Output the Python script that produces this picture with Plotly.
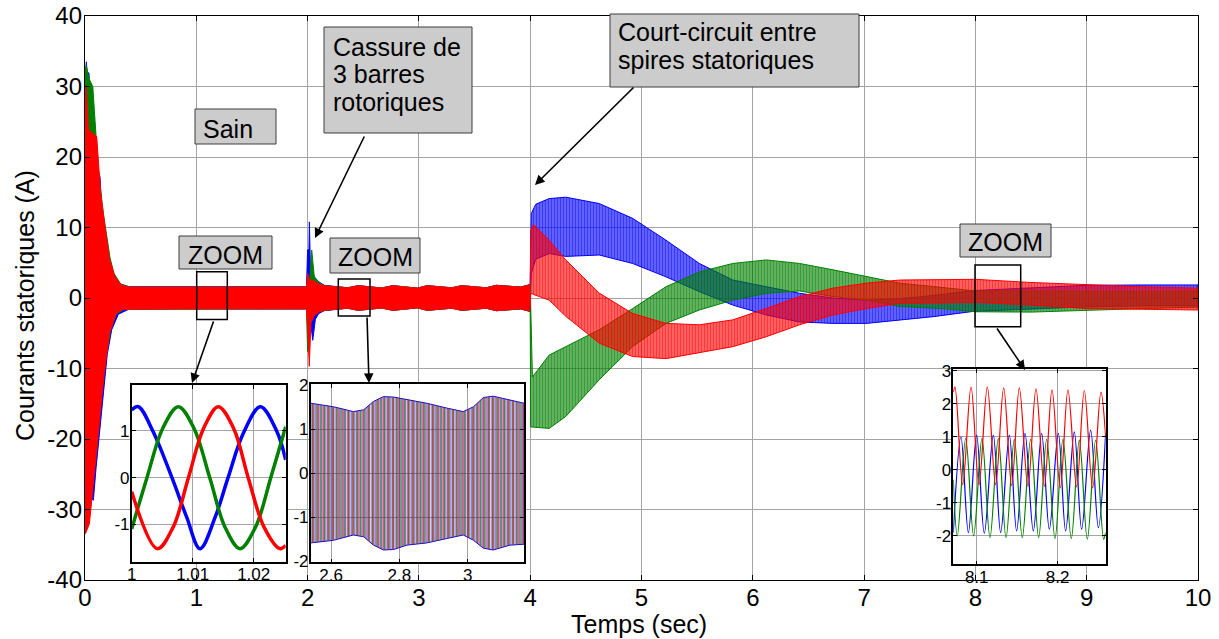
import plotly.graph_objects as go

# ---------------- colours ----------------
BLUE = "rgb(0,0,255)"
GREEN = "rgb(0,128,0)"
RED = "rgb(255,0,0)"
BLUE_T = "rgba(0,0,255,0.55)"
GREEN_T = "rgba(0,128,0,0.55)"
RED_T = "rgba(255,0,0,0.55)"
CLEAR = "rgba(0,0,0,0)"

# ---------------- main chart: envelopes ----------------
# slow modulation of the envelope after the broken-bar fault (2.15 s .. 4 s)
t_mod = [2.36, 2.455, 2.665, 2.765, 2.985, 3.075, 3.295, 3.385, 3.605, 3.695, 3.915, 4.0]
env_mod = [1.45, 1.75, 1.42, 1.75, 1.4, 1.75, 1.45, 1.75, 1.45, 1.8, 1.55, 1.9]

# phase a (blue), 0..4 s
ta_up = [0.0, 0.012, 0.02, 0.036, 0.05, 0.08, 0.12, 0.135, 0.155, 0.18, 0.195, 0.23, 0.27, 0.33, 0.4,
         1.0, 1.99, 2.0, 2.012, 2.016, 2.025, 2.06, 2.1, 2.15] + t_mod
va_up = [30, 33.5, 32, 31.9, 25, 21, 18, 17.2, 11, 9, 7.8, 4.5, 2.6, 1.9, 1.6,
         1.6, 1.6, 6.8, 7.0, 10.8, 4.5, 3.0, 2.3, 1.8] + env_mod
ta_lo = [0.0, 0.01, 0.03, 0.075, 0.1, 0.13, 0.165, 0.2, 0.24, 0.3, 0.4,
         1.0, 1.99, 2.0, 2.02, 2.046, 2.07, 2.1, 2.15] + t_mod
va_lo = [-25, -27, -28, -28.7, -24, -19, -13.5, -8, -4.5, -2.3, -1.55,
         -1.55, -1.55, -3, -2.5, -6.0, -3.0, -2.2, -1.8] + [-v for v in env_mod]

# phase b (green), 0..4 s
tb_up = [0.0, 0.01, 0.04, 0.07, 0.09, 0.12, 0.165, 0.2, 0.225, 0.26, 0.32, 0.4,
         1.0, 1.99, 2.0, 2.02, 2.037, 2.06, 2.1, 2.15] + t_mod
vb_up = [32, 33, 31, 30, 25.2, 18, 12, 8, 5.7, 3.5, 2.0, 1.55,
         1.55, 1.55, 3, 2.5, 6.8, 3.0, 2.2, 1.75] + env_mod
tb_lo = [0.0, 0.02, 0.06, 0.105, 0.14, 0.19, 0.23, 0.28, 0.35, 0.4,
         1.0, 1.99, 2.0, 2.01, 2.03, 2.06, 2.1, 2.15] + t_mod
vb_lo = [-28, -30, -27, -21.6, -15, -8.3, -4.5, -2.3, -1.6, -1.55,
         -1.55, -1.55, -7.6, -6.5, -3.5, -2.5, -2.0, -1.75] + [-v for v in env_mod]

# phase c (red), 0..4 s
tc_up = [0.0, 0.01, 0.03, 0.06, 0.105, 0.14, 0.18, 0.22, 0.27, 0.33, 0.4,
         1.0, 1.99, 2.0, 2.02, 2.05, 2.1, 2.15] + t_mod
vc_up = [28, 30, 24, 23.4, 22.9, 15, 10.1, 5.5, 3.0, 1.8, 1.55,
         1.55, 1.55, 3.5, 2.5, 2.5, 2.0, 1.75] + env_mod
tc_lo = [0.0, 0.005, 0.04, 0.08, 0.135, 0.17, 0.22, 0.28, 0.34, 0.4,
         1.0, 1.99, 2.0, 2.015, 2.03, 2.06, 2.1, 2.15] + t_mod
vc_lo = [-33.4, -33.4, -32, -26, -16.8, -11, -5, -2.2, -1.6, -1.55,
         -1.55, -1.55, -4, -9.7, -3.5, -2.5, -2.0, -1.75] + [-v for v in env_mod]

# 4..10 s (inter-turn short circuit)
ta2 = [4.0, 4.01, 4.05, 4.17, 4.32, 4.62, 4.92, 5.22, 5.52, 5.82, 6.12, 6.42, 6.72, 7.02, 7.32, 7.62, 7.98, 8.5, 9.0, 9.5, 10.0]
va2_up = [1.9, 12.0, 13.3, 14.1, 14.3, 13.4, 11.3, 8.2, 4.9, 2.55, 1.6, 0.67, 0.0, -0.3, -0.1, 0.35, 1.05, 1.4, 1.8, 1.85, 1.85]
va2_lo = [-1.6, 3.5, 5.5, 6.3, 5.9, 6.1, 4.9, 3.0, 0.9, -1.0, -2.4, -3.4, -3.6, -3.6, -3.1, -2.65, -1.9, -1.6, -1.25, -1.1, -1.1]

tb2 = [4.0, 4.004, 4.02, 4.17, 4.32, 4.62, 4.92, 5.22, 5.52, 5.82, 6.12, 6.42, 6.72, 7.02, 7.32, 7.7, 8.0, 8.5, 9.0, 9.5, 10.0]
vb2_up = [1.9, -1.5, -11.2, -8.1, -6.9, -4.5, -1.5, 1.6, 3.7, 4.9, 5.4, 4.9, 4.0, 3.0, 2.1, 1.5, 1.0, 1.0, 0.9, 0.9, 1.0]
vb2_lo = [-1.6, -18.3, -18.3, -18.5, -16.8, -11.6, -6.9, -3.6, -1.7, -0.3, 0.67, 1.0, 0.2, -0.3, -1.2, -1.5, -1.95, -2.0, -1.8, -1.5, -1.3]

tc2 = [4.0, 4.005, 4.03, 4.17, 4.32, 4.62, 4.92, 5.22, 5.52, 5.82, 6.12, 6.42, 6.72, 7.02, 7.32, 7.7, 8.0, 8.5, 9.0, 9.5, 10.0]
vc2_up = [1.9, 9.5, 10.4, 8.2, 5.4, 0.7, -2.2, -3.6, -3.8, -3.1, -1.5, 0.2, 1.4, 2.1, 2.55, 2.6, 2.65, 2.2, 1.85, 1.6, 1.4]
vc2_lo = [-1.6, 0.7, 0.5, -0.3, -2.6, -6.4, -8.3, -8.6, -7.8, -6.9, -5.5, -3.8, -2.4, -1.5, -0.75, -0.7, -0.6, -1.0, -1.5, -1.6, -1.7]

# ---------------- inset 1 (healthy, 1.0 .. 1.025 s) ----------------
z1_ta = [1.0, 1.0011, 1.0035, 1.0066, 1.009, 1.0112, 1.0137, 1.0158, 1.0183, 1.0211, 1.0238, 1.02525]
z1_va = [1.45, 1.52, 0.99, 0.0, -0.84, -1.52, -0.84, 0.0, 0.95, 1.52, 0.99, 0.38]
z1_tb = [1.0, 1.0025, 1.0051, 1.00764, 1.0102, 1.0128, 1.0153, 1.01775, 1.0203, 1.0228, 1.02525]
z1_vb = [-1.1, 0.0, 1.06, 1.52, 1.06, 0.0, -1.06, -1.52, -1.06, 0.0, 1.09]
z1_tc = [1.0, 1.0042, 1.0068, 1.0093, 1.0118, 1.0142, 1.0167, 1.0191, 1.0217, 1.0243, 1.02525]
z1_vc = [-0.3, -1.52, -1.06, 0.0, 1.06, 1.52, 1.06, 0.0, -1.06, -1.52, -1.45]

# ---------------- inset 2 (broken bars, 2.54 .. 3.165 s) ----------------
z2_t = [2.54, 2.607, 2.665, 2.695, 2.724, 2.753, 2.783, 2.822, 2.88, 2.939, 2.987, 3.017, 3.046, 3.075, 3.124, 3.165]
z2_up = [1.59, 1.51, 1.40, 1.44, 1.63, 1.74, 1.73, 1.67, 1.59, 1.48, 1.40, 1.51, 1.72, 1.75, 1.67, 1.59]
z2_lo = [-1.58, -1.52, -1.40, -1.44, -1.63, -1.74, -1.73, -1.63, -1.58, -1.48, -1.40, -1.52, -1.70, -1.74, -1.63, -1.61]

# ---------------- inset 3 (short circuit, 8.07 .. 8.26 s) ----------------
z3_ta = [8.0711, 8.0806, 8.0897, 8.0999, 8.1094, 8.1205, 8.1296, 8.1403, 8.1493, 8.1596, 8.1699,
         8.1802, 8.1897, 8.2008, 8.2098, 8.2205, 8.2296, 8.2407, 8.2502, 8.2592]
z3_va = [-1.9, 1.0, -1.9, 1.05, -1.92, 1.05, -1.9, 1.05, -1.85, 1.1, -1.85,
         1.1, -1.8, 1.1, -1.85, 1.15, -1.8, 1.2, -1.75, 1.1]
z3_tb = [8.0711, 8.0761, 8.0864, 8.0962, 8.1065, 8.1164, 8.1267, 8.1362, 8.1465, 8.1563, 8.1666,
         8.1765, 8.1864, 8.1967, 8.2065, 8.2168, 8.2267, 8.2366, 8.2469, 8.2567, 8.2592]
z3_vb = [-0.3, -2.0, 0.95, -2.0, 0.95, -2.05, 0.95, -2.05, 0.92, -2.05, 0.92,
         -2.05, 0.92, -2.08, 0.92, -2.08, 0.9, -2.1, 0.9, -2.1, -1.9]
z3_tc = [8.0711, 8.0732, 8.0827, 8.0930, 8.1028, 8.1131, 8.1234, 8.1333, 8.1432, 8.1526, 8.1633,
         8.1732, 8.1835, 8.1930, 8.2032, 8.2127, 8.2234, 8.2329, 8.2432, 8.2534, 8.2592]
z3_vc = [2.35, 2.5, -0.45, 2.5, -0.45, 2.5, -0.45, 2.48, -0.48, 2.48, -0.5,
         2.45, -0.5, 2.42, -0.55, 2.42, -0.52, 2.4, -0.55, 2.35, 1.0]

# ---------------- tick labels and texts ----------------
main_xticks = list(range(0, 11))
main_yticks = [-40, -30, -20, -10, 0, 10, 20, 30, 40]
main_ylabels = ["-40", "-30", "-20", "-10", "0", "10", "20", "30", "40"]
z1_xticks, z1_xlabels = [1, 1.01, 1.02], ["1", "1.01", "1.02"]
z1_yticks, z1_ylabels = [-1, 0, 1], ["-1", "0", "1"]
z2_xticks, z2_xlabels = [2.6, 2.8, 3.0], ["2.6", "2.8", "3"]
z2_yticks, z2_ylabels = [-2, -1, 0, 1, 2], ["-2", "-1", "0", "1", "2"]
z3_xticks, z3_xlabels = [8.1, 8.2], ["8.1", "8.2"]
z3_yticks, z3_ylabels = [-2, -1, 0, 1, 2, 3], ["-2", "-1", "0", "1", "2", "3"]

x_title = "Temps (sec)"
y_title = "Courants statoriques (A)"
FONT = "Liberation Sans, Arial, sans-serif"

# ---------------- geometry helpers (pixel -> paper) ----------------
L, R, T, B, W, H = 85, 21, 16, 59, 1219, 639
PW, PH = W - L - R, H - T - B


def px(xp):
    return (xp - L) / PW


def py(yp):
    return (H - B - yp) / PH


fig = go.Figure()


def band(t_up, v_up, t_lo, v_lo, color, tint, xa, ya, pattern=None, lw=1):
    xs = list(t_up) + list(t_lo)[::-1]
    ys = list(v_up) + list(v_lo)[::-1]
    kw = dict(x=xs, y=ys, mode="lines", fill="toself", xaxis=xa, yaxis=ya,
              line=dict(color=color, width=lw), hoverinfo="skip", showlegend=False)
    if pattern is None:
        kw["fillcolor"] = color
    else:
        kw["fillcolor"] = tint
        kw["fillpattern"] = dict(shape="|", size=pattern[0], solidity=pattern[1],
                                 fgcolor=color, bgcolor=tint)
    fig.add_trace(go.Scatter(**kw))


# main, 0..4 s (dense, looks solid)
band(ta_up, va_up, ta_lo, va_lo, BLUE, BLUE_T, "x", "y")
band(tb_up, vb_up, tb_lo, vb_lo, GREEN, GREEN_T, "x", "y")
band(tc_up, vc_up, tc_lo, vc_lo, RED, RED_T, "x", "y")
# main, 4..10 s (hatched look)
band(ta2, va2_up, ta2, va2_lo, BLUE, BLUE_T, "x", "y", pattern=(3, 0.55))
band(tb2, vb2_up, tb2, vb2_lo, GREEN, GREEN_T, "x", "y", pattern=(3, 0.55))
band(tc2, vc2_up, tc2, vc2_lo, RED, RED_T, "x", "y", pattern=(3, 0.55))

# inset 1
for tt, vv, c in [(z1_ta, z1_va, BLUE), (z1_tb, z1_vb, GREEN), (z1_tc, z1_vc, RED)]:
    fig.add_trace(go.Scatter(x=tt, y=vv, mode="lines", xaxis="x2", yaxis="y2",
                             line=dict(color=c, width=3.5, shape="spline", smoothing=1.0),
                             hoverinfo="skip", showlegend=False))
# inset 2
band(z2_t, z2_up, z2_t, z2_lo, BLUE, CLEAR, "x3", "y3", pattern=(3, 0.6), lw=1)
band(z2_t, z2_up, z2_t, z2_lo, GREEN, CLEAR, "x3", "y3", pattern=(4, 0.5), lw=0)
band(z2_t, z2_up, z2_t, z2_lo, RED, CLEAR, "x3", "y3", pattern=(5, 0.4), lw=0)
# inset 3
for tt, vv, c in [(z3_ta, z3_va, BLUE), (z3_tb, z3_vb, GREEN), (z3_tc, z3_vc, RED)]:
    fig.add_trace(go.Scatter(x=tt, y=vv, mode="lines", xaxis="x4", yaxis="y4",
                             line=dict(color=c, width=1.2, shape="spline", smoothing=1.0),
                             hoverinfo="skip", showlegend=False))

GRID = "#a4a4a4"


def ax_style(fs, **kw):
    d = dict(showgrid=True, gridcolor=GRID, gridwidth=1, zeroline=False, showline=True,
             linecolor="black", linewidth=1.3, mirror="ticks", ticks="inside", ticklen=5,
             tickcolor="black", automargin=False,
             tickfont=dict(family=FONT, size=fs, color="black"))
    d.update(kw)
    return d


# inset ranges
r2x, r2y = [1.0, 1.02525], [-1.8, 1.985]
r3x, r3y = [2.54, 3.165], [-2.02, 2.02]
r4x, r4y = [8.0711, 8.2593], [-2.86, 3.05]

INX = dict(linewidth=1.6, ticklen=4, ticklabelstandoff=-4)
INY = dict(linewidth=1.6, ticklen=4, ticklabelstandoff=-3)

fig.update_layout(
    width=W, height=H, margin=dict(l=L, r=R, t=T, b=B, autoexpand=False), autosize=False,
    paper_bgcolor="white", plot_bgcolor="white", showlegend=False,
    font=dict(family=FONT, size=24, color="black"),
    xaxis=ax_style(24, range=[0, 10], tickvals=main_xticks, domain=[0, 1], ticklabelstandoff=-4),
    yaxis=ax_style(24, range=[-40, 40], tickvals=main_yticks, ticktext=main_ylabels, domain=[0, 1],
                   ticklabelstandoff=-3),
    xaxis2=ax_style(17, range=r2x, tickvals=z1_xticks, ticktext=z1_xlabels,
                    domain=[px(131.7), px(285.7)], anchor="y2", **INX),
    yaxis2=ax_style(17, range=r2y, tickvals=z1_yticks, ticktext=z1_ylabels,
                    domain=[py(561.7), py(385)], anchor="x2", **INY),
    xaxis3=ax_style(17, range=r3x, tickvals=z2_xticks, ticktext=z2_xlabels,
                    domain=[px(310.7), px(524)], anchor="y3", **INX),
    yaxis3=ax_style(17, range=r3y, tickvals=z2_yticks, ticktext=z2_ylabels,
                    domain=[py(562.3), py(384.3)], anchor="x3", **INY),
    xaxis4=ax_style(17, range=r4x, tickvals=z3_xticks, ticktext=z3_xlabels,
                    domain=[px(953.3), px(1105.7)], anchor="y4", **INX),
    yaxis4=ax_style(17, range=r4y, tickvals=z3_yticks, ticktext=z3_ylabels,
                    domain=[py(564.3), py(369)], anchor="x4", **INY),
)

shapes = []
# opaque white backgrounds for the insets (below their own grid, above main traces)
for xr, yr, xa, ya in [(r2x, r2y, "x2", "y2"), (r3x, r3y, "x3", "y3"), (r4x, r4y, "x4", "y4")]:
    shapes.append(dict(type="rect", xref=xa, yref=ya, x0=xr[0], x1=xr[1], y0=yr[0], y1=yr[1],
                       fillcolor="white", line=dict(width=0), layer="below"))

# zoom rectangles on the main axes
for (l_, t_, r_, b_) in [(196.7, 271.7, 227.3, 319.5), (338.3, 279, 370, 316), (975, 265, 1020.7, 326.7)]:
    shapes.append(dict(type="rect", xref="paper", yref="paper", x0=px(l_), x1=px(r_),
                       y0=py(b_), y1=py(t_), line=dict(color="black", width=1.5),
                       fillcolor="rgba(0,0,0,0)", layer="above"))

# grey text boxes
BOXES = [(195, 109, 276, 144), (179, 236, 272, 269), (330, 238, 420, 273),
         (960, 224, 1051, 257), (324, 27, 472, 133), (610, 14, 859, 87)]
for (l_, t_, r_, b_) in BOXES:
    shapes.append(dict(type="rect", xref="paper", yref="paper", x0=px(l_), x1=px(r_),
                       y0=py(b_), y1=py(t_), line=dict(color="#3c3c3c", width=1),
                       fillcolor="#cccccc", layer="above"))
fig.update_layout(shapes=shapes)

ann = []
TEXTS = [("Sain", 201, 128.5, "left"), ("ZOOM", 225.5, 255, "center"),
         ("ZOOM", 375, 257, "center"), ("ZOOM", 1005, 242.5, "center"),
         ("Cassure de", 330.5, 47, "left"), ("3 barres", 330.5, 74.5, "left"),
         ("rotoriques", 330.5, 102, "left"),
         ("Court-circuit entre", 615.5, 31.5, "left"), ("spires statoriques", 615.5, 60, "left")]
for txt, xx, yy, anc in TEXTS:
    ann.append(dict(text=txt, xref="paper", yref="paper", x=px(xx), y=py(yy), xanchor=anc,
                    yanchor="middle", showarrow=False,
                    font=dict(family=FONT, size=25, color="black")))

# axis titles
ann.append(dict(text=x_title, xref="paper", yref="paper", x=px(639), y=py(624), xanchor="center",
                yanchor="middle", showarrow=False, font=dict(family=FONT, size=25, color="black")))
ann.append(dict(text=y_title, xref="paper", yref="paper", x=px(25), y=py(306), xanchor="center",
                yanchor="middle", textangle=-90, showarrow=False,
                font=dict(family=FONT, size=25, color="black")))

ARROWS = [((365, 135), (315, 238)), ((635, 86), (535, 185)), ((214, 320), (192, 383)),
          ((367, 316), (369, 383)), ((996, 327), (1025, 370))]
for (tx, ty), (hx, hy) in ARROWS:
    ann.append(dict(text="", xref="paper", yref="paper", x=px(hx), y=py(hy),
                    ax=tx - hx, ay=ty - hy, showarrow=True, arrowhead=2, arrowsize=1.2,
                    arrowwidth=1.6, arrowcolor="black", standoff=0, startstandoff=0))
fig.update_layout(annotations=ann)

fig.write_html("out.html")
